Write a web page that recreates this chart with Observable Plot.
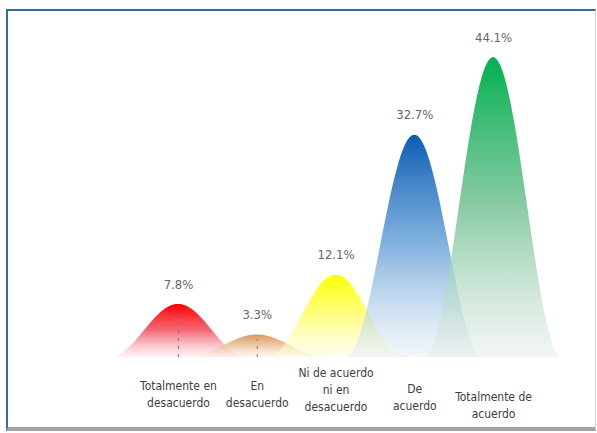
<!DOCTYPE html>
<html>
<head>
<meta charset="utf-8">
<script src="https://cdn.jsdelivr.net/npm/d3@7"></script>
<script src="https://cdn.jsdelivr.net/npm/@observablehq/plot@0.6"></script>
<style>
  html, body { margin: 0; padding: 0; background: #fff; }
  #wrap { position: relative; width: 597px; height: 433px; overflow: hidden; }
  #frame {
    position: absolute; left: 6px; top: 9px; width: 587px; height: 416px;
    border-top: 2px solid #2f6e9d; border-left: 2px solid #2f6e9d;
    border-right: 1px solid #d6d6d6; border-bottom: 4px solid #a3a3a3;
    pointer-events: none;
  }
  #chart { position: absolute; left: 0; top: 0; }
  #chart svg text { font-stretch: condensed; }
</style>
</head>
<body>
<div id="wrap"><div id="chart"></div><div id="frame"></div></div>
<script>
// Data
const categories = [
  "Totalmente en\ndesacuerdo",
  "En\ndesacuerdo",
  "Ni de acuerdo\nni en\ndesacuerdo",
  "De\nacuerdo",
  "Totalmente de\nacuerdo"
];
const values = [7.8, 3.3, 12.1, 32.7, 44.1];
const valueLabels = ["7.8%", "3.3%", "12.1%", "32.7%", "44.1%"];
const topColors = ["#ff0000", "#d9965b", "#ffff00", "#0b5db3", "#00b050"];
const midColors = ["#f2505e", "#ecc39c", "#ffff70", "#6ea5da", "#74c294"];
const baseColors = ["#fde6ea", "#fbeee2", "#fffbe0", "#e6edf5", "#e6ecea"];

const table = categories.map((c, i) => ({i, category: c, value: values[i], label: valueLabels[i]}));

// peak shape (raised cosine) built from each value
const halfBase = 0.87;
function peak(d) {
  const pts = [];
  const n = 60;
  for (let k = 0; k <= n; k++) {
    const t = -1 + 2 * k / n;
    pts.push({x: d.i + t * halfBase, y: d.value * (1 + Math.cos(Math.PI * t)) / 2});
  }
  return pts;
}

const font = "'DejaVu Sans Condensed', 'DejaVu Sans', sans-serif";
const labelShift = [0, 0, -5, 3, 11]; // style: vertical nudge of category labels (px)

const marks = [];
table.forEach(d => {
  marks.push(Plot.areaY(peak(d), {x: "x", y: "y", fill: `url(#peak-grad-${d.i})`, curve: "linear"}));
});
marks.push(Plot.ruleX(table.filter(d => d.value < 10), {
  x: "i", y1: 0, y2: d => d.value * 0.8,
  stroke: "#8a6a6a", strokeWidth: 1.2, strokeDasharray: "3,5", strokeOpacity: 0.8
}));
marks.push(Plot.text(table, {
  x: "i", y: "value", text: "label", dy: -20,
  fill: "#666666", fontSize: 13, fontFamily: font
}));
table.forEach(d => {
  marks.push(Plot.text([d], {
    x: "i", text: "category", frameAnchor: "bottom", dy: 36 + labelShift[d.i], lineAnchor: "middle",
    lineHeight: 1.4, fill: "#404040", fontSize: 12, fontFamily: font
  }));
});

const svg = Plot.plot({
  width: 597,
  height: 433,
  marginLeft: 0, marginRight: 0, marginTop: 0, marginBottom: 76,
  x: {domain: [-2.26, 5.32], axis: null},
  y: {domain: [0, 52.5], axis: null},
  style: {background: "transparent", overflow: "visible"},
  marks
});

// gradients
const ns = "http://www.w3.org/2000/svg";
const defs = document.createElementNS(ns, "defs");
table.forEach(d => {
  const g = document.createElementNS(ns, "linearGradient");
  g.setAttribute("id", `peak-grad-${d.i}`);
  g.setAttribute("x1", "0"); g.setAttribute("y1", "0");
  g.setAttribute("x2", "0"); g.setAttribute("y2", "1");
  [[0, topColors[d.i], 1], [0.5, midColors[d.i], 0.85], [1, baseColors[d.i], 0.5]].forEach(([o, c, a]) => {
    const s = document.createElementNS(ns, "stop");
    s.setAttribute("offset", o);
    s.setAttribute("stop-color", c);
    s.setAttribute("stop-opacity", a);
    g.appendChild(s);
  });
  defs.appendChild(g);
});
svg.insertBefore(defs, svg.firstChild);
document.getElementById("chart").appendChild(svg);
</script>
</body>
</html>
